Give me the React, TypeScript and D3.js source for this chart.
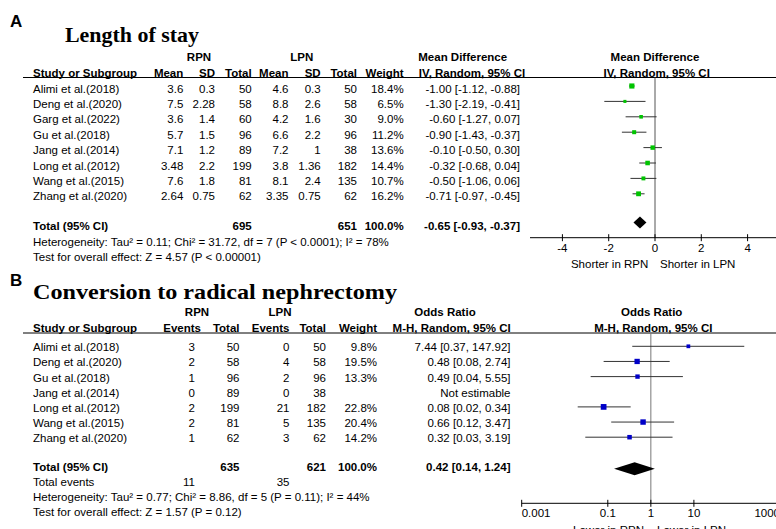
import React from "react";
import * as d3 from "d3";

// ---------- Panel A data: Length of stay ----------
const studiesA = ["Alimi et al.(2018)", "Deng et al.(2020)", "Garg et al.(2022)", "Gu et al.(2018)", "Jang et al.(2014)", "Long et al.(2012)", "Wang et al.(2015)", "Zhang et al.(2020)"];
const rpnMeanA = [3.6, 7.5, 3.6, 5.7, 7.1, 3.48, 7.6, 2.64];
const rpnSdA = [0.3, 2.28, 1.4, 1.5, 1.2, 2.2, 1.8, 0.75];
const rpnTotalA = [50, 58, 60, 96, 89, 199, 81, 62];
const lpnMeanA = [4.6, 8.8, 4.2, 6.6, 7.2, 3.8, 8.1, 3.35];
const lpnSdA = [0.3, 2.6, 1.6, 2.2, 1, 1.36, 2.4, 0.75];
const lpnTotalA = [50, 58, 30, 96, 38, 182, 135, 62];
const weightA = [18.4, 6.5, 9.0, 11.2, 13.6, 14.4, 10.7, 16.2];
const mdA = [-1.0, -1.3, -0.6, -0.9, -0.1, -0.32, -0.5, -0.71];
const loA = [-1.12, -2.19, -1.27, -1.43, -0.5, -0.68, -1.06, -0.97];
const hiA = [-0.88, -0.41, 0.07, -0.37, 0.3, 0.04, 0.06, -0.45];
const totalA = { rpn: 695, lpn: 651, weight: 100.0, est: -0.65, lo: -0.93, hi: -0.37 };
const ticksA = [-4, -2, 0, 2, 4];
const hetA = "Heterogeneity: Tau\u00B2 = 0.11; Chi\u00B2 = 31.72, df = 7 (P < 0.0001); I\u00B2 = 78%";
const testA = "Test for overall effect: Z = 4.57 (P < 0.00001)";

// ---------- Panel B data: Conversion to radical nephrectomy ----------
const studiesB = ["Alimi et al.(2018)", "Deng et al.(2020)", "Gu et al.(2018)", "Jang et al.(2014)", "Long et al.(2012)", "Wang et al.(2015)", "Zhang et al.(2020)"];
const rpnEventsB = [3, 2, 1, 0, 2, 2, 1];
const rpnTotalB = [50, 58, 96, 89, 199, 81, 62];
const lpnEventsB = [0, 4, 2, 0, 21, 5, 3];
const lpnTotalB = [50, 58, 96, 38, 182, 135, 62];
const weightB: (number | null)[] = [9.8, 19.5, 13.3, null, 22.8, 20.4, 14.2];
const orB: (number | null)[] = [7.44, 0.48, 0.49, null, 0.08, 0.66, 0.32];
const loB: (number | null)[] = [0.37, 0.08, 0.04, null, 0.02, 0.12, 0.03];
const hiB: (number | null)[] = [147.92, 2.74, 5.55, null, 0.34, 3.47, 3.19];
const totalB = { rpn: 635, lpn: 621, weight: 100.0, est: 0.42, lo: 0.14, hi: 1.24, rpnEvents: 11, lpnEvents: 35 };
const ticksB = [0.001, 0.1, 1, 10, 1000];
const hetB = "Heterogeneity: Tau\u00B2 = 0.77; Chi\u00B2 = 8.86, df = 5 (P = 0.11); I\u00B2 = 44%";
const testB = "Test for overall effect: Z = 1.57 (P = 0.12)";

const SANS = "'Liberation Sans', Arial, sans-serif";
const SERIF = "'Liberation Serif', 'Times New Roman', serif";
const FS = 11.5;

function T(props: { x: number; y: number; anchor?: "start" | "middle" | "end"; bold?: boolean; children: React.ReactNode; size?: number }) {
  return (
    <text x={props.x} y={props.y} dy="0.35em" textAnchor={props.anchor || "start"} fontFamily={SANS}
      fontSize={props.size || FS} fontWeight={props.bold ? "bold" : "normal"} fill="#000">
      {props.children}
    </text>
  );
}

const f2 = (v: number) => v.toFixed(2);
const pct = (v: number) => v.toFixed(1) + "%";

export default function App() {
  // ----- Panel A layout -----
  const rowA = d3.scaleLinear().domain([0, 1]).range([88.5, 103.9]);
  const xA = d3.scaleLinear().domain([-5.4, 5.4]).range([530, 780]);
  const colA = [183.3, 215, 251.7, 288.5, 320.7, 357, 403.7];
  const ciRightA = 520;
  const axisYA = 237.7;
  const totalYA = 225.5;

  // ----- Panel B layout -----
  const rowB = d3.scaleLinear().domain([0, 1]).range([347.3, 362.45]);
  const xB = d3.scaleLog().domain([0.001, 1000]).range([521.7, 780]);
  const colBHead = [201, 239.5, 289.5, 326, 377];
  const colB = [195, 239.5, 289.5, 326, 377];
  const ciRightB = 510.5;
  const axisYB = 503.3;
  const totalYB = 466.7;

  const sq = (w: number) => 1.2 * Math.sqrt(w);

  return (
    <svg width={776} height={529} style={{ position: "absolute", left: 0, top: 0, display: "block", background: "#fff" }}>
      <rect x={0} y={0} width={776} height={529} fill="#fff" />

      {/* ================= Panel A ================= */}
      <text x={10} y={26.5} fontFamily={SANS} fontWeight="bold" fontSize={17}>A</text>
      <text x={65} y={41.5} fontFamily={SERIF} fontWeight="bold" fontSize={21} textLength={134} lengthAdjust="spacingAndGlyphs">Length of stay</text>

      <T x={199} y={57} anchor="middle" bold>RPN</T>
      <T x={301.7} y={57} anchor="middle" bold>LPN</T>
      <T x={462.7} y={57} anchor="middle" bold>Mean Difference</T>
      <T x={655} y={57} anchor="middle" bold>Mean Difference</T>

      <T x={33} y={72.5} bold>Study or Subgroup</T>
      {["Mean", "SD", "Total", "Mean", "SD", "Total", "Weight"].map((h, i) => (
        <T key={"ha" + i} x={colA[i]} y={72.5} anchor="end" bold>{h}</T>
      ))}
      <T x={472} y={72.5} anchor="middle" bold>IV, Random, 95% CI</T>
      <T x={656.7} y={72.5} anchor="middle" bold>IV, Random, 95% CI</T>
      <line x1={23} x2={776} y1={77.5} y2={77.5} stroke="#000" strokeWidth={1} />

      {studiesA.map((s, i) => {
        const y = rowA(i);
        const vals = [String(rpnMeanA[i]), String(rpnSdA[i]), String(rpnTotalA[i]), String(lpnMeanA[i]), String(lpnSdA[i]), String(lpnTotalA[i]), pct(weightA[i])];
        return (
          <g key={"ra" + i}>
            <T x={33} y={y}>{s}</T>
            {vals.map((v, j) => <T key={j} x={colA[j]} y={y} anchor="end">{v}</T>)}
            <T x={ciRightA} y={y} anchor="end">{`${f2(mdA[i])} [${f2(loA[i])}, ${f2(hiA[i])}]`}</T>
          </g>
        );
      })}

      {/* forest A */}
      <line x1={xA(0)} x2={xA(0)} y1={77.5} y2={axisYA} stroke="#555" strokeWidth={1} />
      {studiesA.map((s, i) => {
        const y = rowA(i) - 2.5;
        const w = sq(weightA[i]);
        return (
          <g key={"fa" + i}>
            <line x1={xA(loA[i])} x2={xA(hiA[i])} y1={y} y2={y} stroke="#333" strokeWidth={1} />
            <rect x={xA(mdA[i]) - w / 2} y={y - w / 2} width={w} height={w} fill="#00c400" />
          </g>
        );
      })}

      <T x={33} y={totalYA} bold>Total (95% CI)</T>
      <T x={colA[2]} y={totalYA} anchor="end" bold>{totalA.rpn}</T>
      <T x={colA[5]} y={totalYA} anchor="end" bold>{totalA.lpn}</T>
      <T x={colA[6]} y={totalYA} anchor="end" bold>{pct(totalA.weight)}</T>
      <T x={ciRightA} y={totalYA} anchor="end" bold>{`${f2(totalA.est)} [${f2(totalA.lo)}, ${f2(totalA.hi)}]`}</T>
      <polygon
        points={`${xA(totalA.lo)},${totalYA - 3} ${xA(totalA.est)},${totalYA - 9} ${xA(totalA.hi)},${totalYA - 3} ${xA(totalA.est)},${totalYA + 3}`}
        fill="#000" />
      <T x={33} y={241.5}>{hetA}</T>
      <T x={33} y={256.5}>{testA}</T>

      {/* axis A */}
      <line x1={xA.range()[0]} x2={xA.range()[1]} y1={axisYA} y2={axisYA} stroke="#000" strokeWidth={1} />
      {ticksA.map((t) => (
        <g key={"ta" + t}>
          <line x1={xA(t)} x2={xA(t)} y1={axisYA - 3.5} y2={axisYA + 3.5} stroke="#000" strokeWidth={1} />
          <T x={xA(t)} y={axisYA + 10.6} anchor="middle">{String(t)}</T>
        </g>
      ))}
      <T x={648.3} y={axisYA + 26.6} anchor="end">Shorter in RPN</T>
      <T x={660} y={axisYA + 26.6}>Shorter in LPN</T>

      {/* ================= Panel B ================= */}
      <text x={10} y={285.5} fontFamily={SANS} fontWeight="bold" fontSize={17}>B</text>
      <text x={33} y={299} fontFamily={SERIF} fontWeight="bold" fontSize={21} textLength={364} lengthAdjust="spacingAndGlyphs">Conversion to radical nephrectomy</text>

      <T x={197} y={311.7} anchor="middle" bold>RPN</T>
      <T x={280} y={311.7} anchor="middle" bold>LPN</T>
      <T x={445} y={311.7} anchor="middle" bold>Odds Ratio</T>
      <T x={651.7} y={311.7} anchor="middle" bold>Odds Ratio</T>

      <T x={33} y={327.8} bold>Study or Subgroup</T>
      {["Events", "Total", "Events", "Total", "Weight"].map((h, i) => (
        <T key={"hb" + i} x={colBHead[i]} y={327.8} anchor="end" bold>{h}</T>
      ))}
      <T x={451.7} y={327.8} anchor="middle" bold>M-H, Random, 95% CI</T>
      <T x={653.3} y={327.8} anchor="middle" bold>M-H, Random, 95% CI</T>
      <line x1={23} x2={776} y1={333} y2={333} stroke="#000" strokeWidth={1} />

      {studiesB.map((s, i) => {
        const y = rowB(i);
        const w = weightB[i];
        const vals = [String(rpnEventsB[i]), String(rpnTotalB[i]), String(lpnEventsB[i]), String(lpnTotalB[i]), w == null ? "" : pct(w)];
        const o = orB[i], lo = loB[i], hi = hiB[i];
        return (
          <g key={"rb" + i}>
            <T x={33} y={y}>{s}</T>
            {vals.map((v, j) => <T key={j} x={colB[j]} y={y} anchor="end">{v}</T>)}
            <T x={ciRightB} y={y} anchor="end">{o == null ? "Not estimable" : `${f2(o)} [${f2(lo as number)}, ${f2(hi as number)}]`}</T>
          </g>
        );
      })}

      {/* forest B */}
      <line x1={xB(1)} x2={xB(1)} y1={333} y2={axisYB} stroke="#777" strokeWidth={1} />
      {studiesB.map((s, i) => {
        const o = orB[i], lo = loB[i], hi = hiB[i], wt = weightB[i];
        if (o == null || lo == null || hi == null || wt == null) return null;
        const y = rowB(i) - 1;
        const w = sq(wt);
        return (
          <g key={"fb" + i}>
            <line x1={xB(lo)} x2={xB(hi)} y1={y} y2={y} stroke="#333" strokeWidth={1} />
            <rect x={xB(o) - w / 2} y={y - w / 2} width={w} height={w} fill="#0000c8" />
          </g>
        );
      })}

      <T x={33} y={totalYB} bold>Total (95% CI)</T>
      <T x={colB[1]} y={totalYB} anchor="end" bold>{totalB.rpn}</T>
      <T x={colB[3]} y={totalYB} anchor="end" bold>{totalB.lpn}</T>
      <T x={colB[4]} y={totalYB} anchor="end" bold>{pct(totalB.weight)}</T>
      <T x={ciRightB} y={totalYB} anchor="end" bold>{`${f2(totalB.est)} [${f2(totalB.lo)}, ${f2(totalB.hi)}]`}</T>
      <polygon
        points={`${xB(totalB.lo)},${totalYB + 2} ${xB(totalB.est)},${totalYB - 4.5} ${xB(totalB.hi)},${totalYB + 2} ${xB(totalB.est)},${totalYB + 8.5}`}
        fill="#000" />
      <T x={33} y={481.7}>Total events</T>
      <T x={colB[0]} y={481.7} anchor="end">{totalB.rpnEvents}</T>
      <T x={colB[2]} y={481.7} anchor="end">{totalB.lpnEvents}</T>
      <T x={33} y={496.5}>{hetB}</T>
      <T x={33} y={511.5}>{testB}</T>

      {/* axis B */}
      <line x1={xB.range()[0]} x2={xB.range()[1]} y1={axisYB} y2={axisYB} stroke="#000" strokeWidth={1} />
      {ticksB.map((t, i) => (
        <g key={"tb" + i}>
          <line x1={xB(t)} x2={xB(t)} y1={axisYB - 3.5} y2={axisYB + 3.5} stroke="#000" strokeWidth={1} />
          <T x={xB(t)} y={axisYB + 10} anchor={i === 0 ? "start" : i === ticksB.length - 1 ? "end" : "middle"}>{String(t)}</T>
        </g>
      ))}
      <T x={644} y={axisYB + 26.6} anchor="end">Lower in RPN</T>
      <T x={657} y={axisYB + 26.6}>Lower in LPN</T>
    </svg>
  );
}
